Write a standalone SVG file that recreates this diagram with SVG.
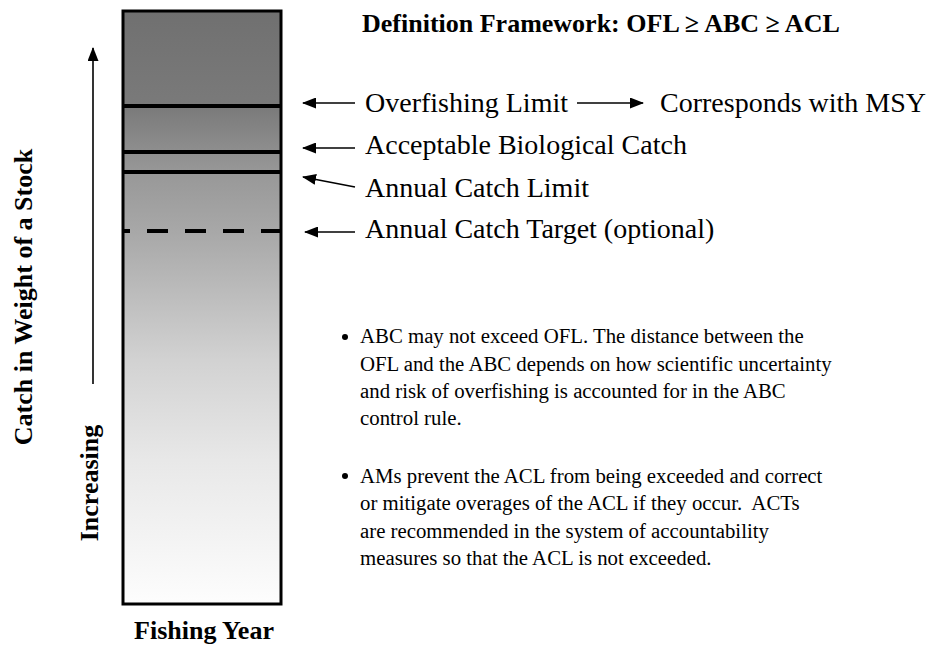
<svg xmlns="http://www.w3.org/2000/svg" width="932" height="646" viewBox="0 0 932 646">
<style>
.lbl{font-family:"Liberation Serif","Times New Roman",serif;font-size:28px;fill:#000}
.bold{font-family:"Liberation Serif","Times New Roman",serif;font-size:26px;font-weight:bold;fill:#000}
.body{font-family:"Liberation Serif","Times New Roman",serif;font-size:20.8px;fill:#000}
.arr{stroke:#000;stroke-width:1.6;fill:none}
.lim{stroke:#000;stroke-width:4}
</style>
<defs>
<linearGradient id="g" x1="0" y1="0" x2="0" y2="1">
<stop offset="0" stop-color="#707070"/>
<stop offset="0.162" stop-color="#7a7a7a"/>
<stop offset="0.273" stop-color="#989898"/>
<stop offset="0.374" stop-color="#a8a8a8"/>
<stop offset="0.589" stop-color="#d2d2d2"/>
<stop offset="0.758" stop-color="#e8e8e8"/>
<stop offset="1" stop-color="#fdfdfd"/>
</linearGradient>
<marker id="ah" markerWidth="14" markerHeight="11" refX="13" refY="5.5" orient="auto" markerUnits="userSpaceOnUse">
<path d="M0,0 L14,5.5 L0,11 Z" fill="#000"/>
</marker>
</defs>

<g id="bar">
<rect x="123" y="11" width="158" height="593" fill="url(#g)" stroke="#000" stroke-width="3"/>
<line class="lim" x1="123" y1="106" x2="281" y2="106"/>
<line class="lim" x1="123" y1="152" x2="281" y2="152"/>
<line class="lim" x1="123" y1="172" x2="281" y2="172"/>
<line class="lim" x1="123" y1="231" x2="282" y2="231" stroke-dasharray="21 17" stroke-dashoffset="14"/>
</g>

<g id="axis">
<text class="bold" transform="translate(32,297) rotate(-90)" text-anchor="middle">Catch in Weight of a Stock</text>
<text class="bold" transform="translate(98,483) rotate(-90)" text-anchor="middle">Increasing</text>
<text class="bold" x="204" y="639" text-anchor="middle">Fishing Year</text>
</g>

<g id="title">
<text class="bold" x="362" y="32">Definition Framework: OFL ≥ ABC ≥ ACL</text>
</g>

<g id="labels">
<text class="lbl" x="365" y="112">Overfishing Limit</text>
<text class="lbl" x="660" y="112">Corresponds with MSY</text>
<text class="lbl" x="365" y="154">Acceptable Biological Catch</text>
<text class="lbl" x="365" y="197">Annual Catch Limit</text>
<text class="lbl" x="365" y="238">Annual Catch Target (optional)</text>
</g>

<g id="connectors">
<line class="arr" x1="93" y1="384" x2="93" y2="48" marker-end="url(#ah)"/>
<line class="arr" x1="355" y1="103" x2="303" y2="103" marker-end="url(#ah)"/>
<line class="arr" x1="577" y1="103" x2="643" y2="103" marker-end="url(#ah)"/>
<line class="arr" x1="355" y1="148" x2="303" y2="148" marker-end="url(#ah)"/>
<line class="arr" x1="355" y1="187" x2="303" y2="177" marker-end="url(#ah)"/>
<line class="arr" x1="355" y1="232" x2="305" y2="232" marker-end="url(#ah)"/>
</g>

<g id="notes">
<circle cx="345" cy="337" r="3" fill="#000"/>
<text class="body" x="360" y="343">ABC may not exceed OFL. The distance between the</text>
<text class="body" x="360" y="371">OFL and the ABC depends on how scientific uncertainty</text>
<text class="body" x="360" y="398">and risk of overfishing is accounted for in the ABC</text>
<text class="body" x="360" y="425">control rule.</text>
<circle cx="345" cy="476" r="3" fill="#000"/>
<text class="body" x="360" y="483">AMs prevent the ACL from being exceeded and correct</text>
<text class="body" x="360" y="510">or mitigate overages of the ACL if they occur.&#160; ACTs</text>
<text class="body" x="360" y="538">are recommended in the system of accountability</text>
<text class="body" x="360" y="565">measures so that the ACL is not exceeded.</text>
</g>
</svg>
